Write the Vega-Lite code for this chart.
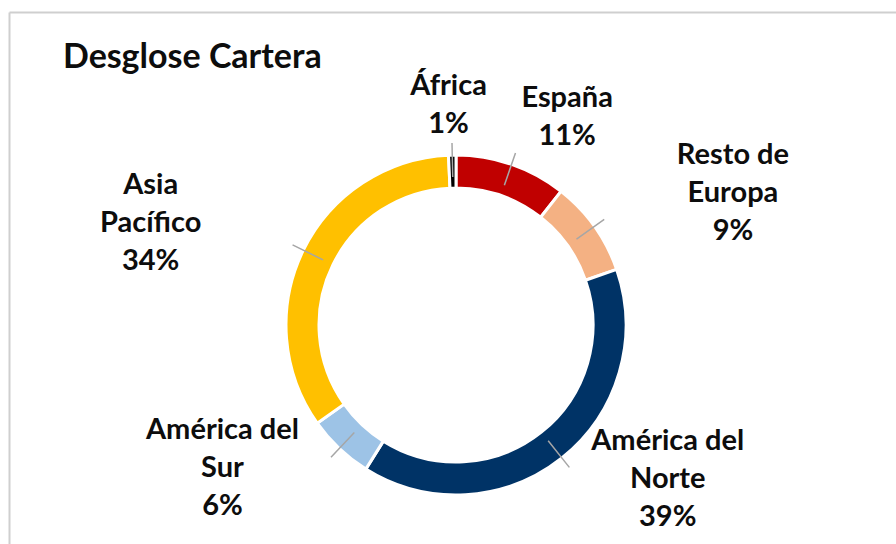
{
  "$schema": "https://vega.github.io/schema/vega-lite/v6.json",
  "width": 887,
  "height": 532,
  "autosize": {"type": "none"},
  "padding": {"left": 9, "top": 12, "right": 0, "bottom": 0},
  "background": "white",
  "config": {"view": {"stroke": null}, "font": "Lato"},
  "title": {
    "text": "Desglose Cartera",
    "anchor": "start",
    "frame": "group",
    "font": "Lato",
    "fontSize": 34,
    "fontWeight": "bold",
    "color": "#0D0D0D",
    "offset": 0,
    "dx": 54,
    "dy": 90,
    "baseline": "alphabetic"
  },
  "data": {
    "values": [
      {"region": "España", "label": "España", "value": 10.6},
      {"region": "Resto de Europa", "label": "Resto de\nEuropa", "value": 9.1},
      {"region": "América del Norte", "label": "América del\nNorte", "value": 39.2},
      {"region": "América del Sur", "label": "América del\nSur", "value": 6.3},
      {"region": "Asia Pacífico", "label": "Asia\nPacífico", "value": 34.1},
      {"region": "África", "label": "África", "value": 0.7}
    ]
  },
  "transform": [
    {"window": [{"op": "sum", "field": "value", "as": "end"}], "frame": [null, 0]},
    {"calculate": "datum.end - datum.value", "as": "start"},
    {"calculate": "datum.end - datum.value / 2", "as": "mid"},
    {"calculate": "datum.label + '\\n' + format(datum.value, '.0f') + '%'", "as": "text"}
  ],
  "layer": [
    {
      "mark": {"type": "point", "opacity": 0, "size": 0},
      "encoding": {
        "x": {
          "field": "value",
          "type": "quantitative",
          "axis": {"orient": "top", "domain": true, "domainColor": "#CFCFCF", "domainWidth": 2, "ticks": false, "labels": false, "grid": false, "title": null}
        },
        "y": {
          "field": "value",
          "type": "quantitative",
          "axis": {"orient": "left", "domain": true, "domainColor": "#CFCFCF", "domainWidth": 2, "ticks": false, "labels": false, "grid": false, "title": null}
        }
      }
    },
    {
      "mark": {
        "type": "arc",
        "innerRadius": 137,
        "outerRadius": 170,
        "stroke": "white",
        "strokeWidth": 3,
        "x": {"expr": "width / 2 + 3.5"},
        "y": {"expr": "height / 2 + 47"}
      },
      "encoding": {
        "theta": {"field": "start", "type": "quantitative", "scale": {"domain": [0, 100], "nice": false, "zero": true}},
        "theta2": {"field": "end"},
        "color": {
          "field": "region",
          "type": "nominal",
          "scale": {
            "domain": ["España", "Resto de Europa", "América del Norte", "América del Sur", "Asia Pacífico", "África"],
            "range": ["#C00000", "#F4B183", "#003366", "#9DC3E6", "#FFC000", "#000000"]
          },
          "legend": null
        }
      }
    },
    {
      "mark": {
        "type": "arc",
        "innerRadius": 148,
        "outerRadius": 182,
        "filled": false,
        "stroke": "#A6A6A6",
        "strokeWidth": 1.5,
        "x": {"expr": "width / 2 + 3.5"},
        "y": {"expr": "height / 2 + 47"}
      },
      "encoding": {
        "theta": {"field": "mid", "type": "quantitative"},
        "theta2": {"field": "mid"}
      }
    },
    {
      "mark": {
        "type": "text",
        "font": "Lato",
        "fontSize": 29,
        "fontWeight": "bold",
        "color": "#0D0D0D",
        "lineBreak": "\n",
        "lineHeight": 38,
        "align": "center",
        "baseline": "middle",
        "radius": 210,
        "dx": {"expr": "130 * sin(datum.mid * PI / 50)"},
        "dy": {"expr": "-10 - (length(split(datum.text, '\\n')) - 1) * 19"},
        "x": {"expr": "width / 2 + 3.5"},
        "y": {"expr": "height / 2 + 47"}
      },
      "encoding": {
        "theta": {"field": "mid", "type": "quantitative"},
        "text": {"field": "text"}
      }
    }
  ]
}
